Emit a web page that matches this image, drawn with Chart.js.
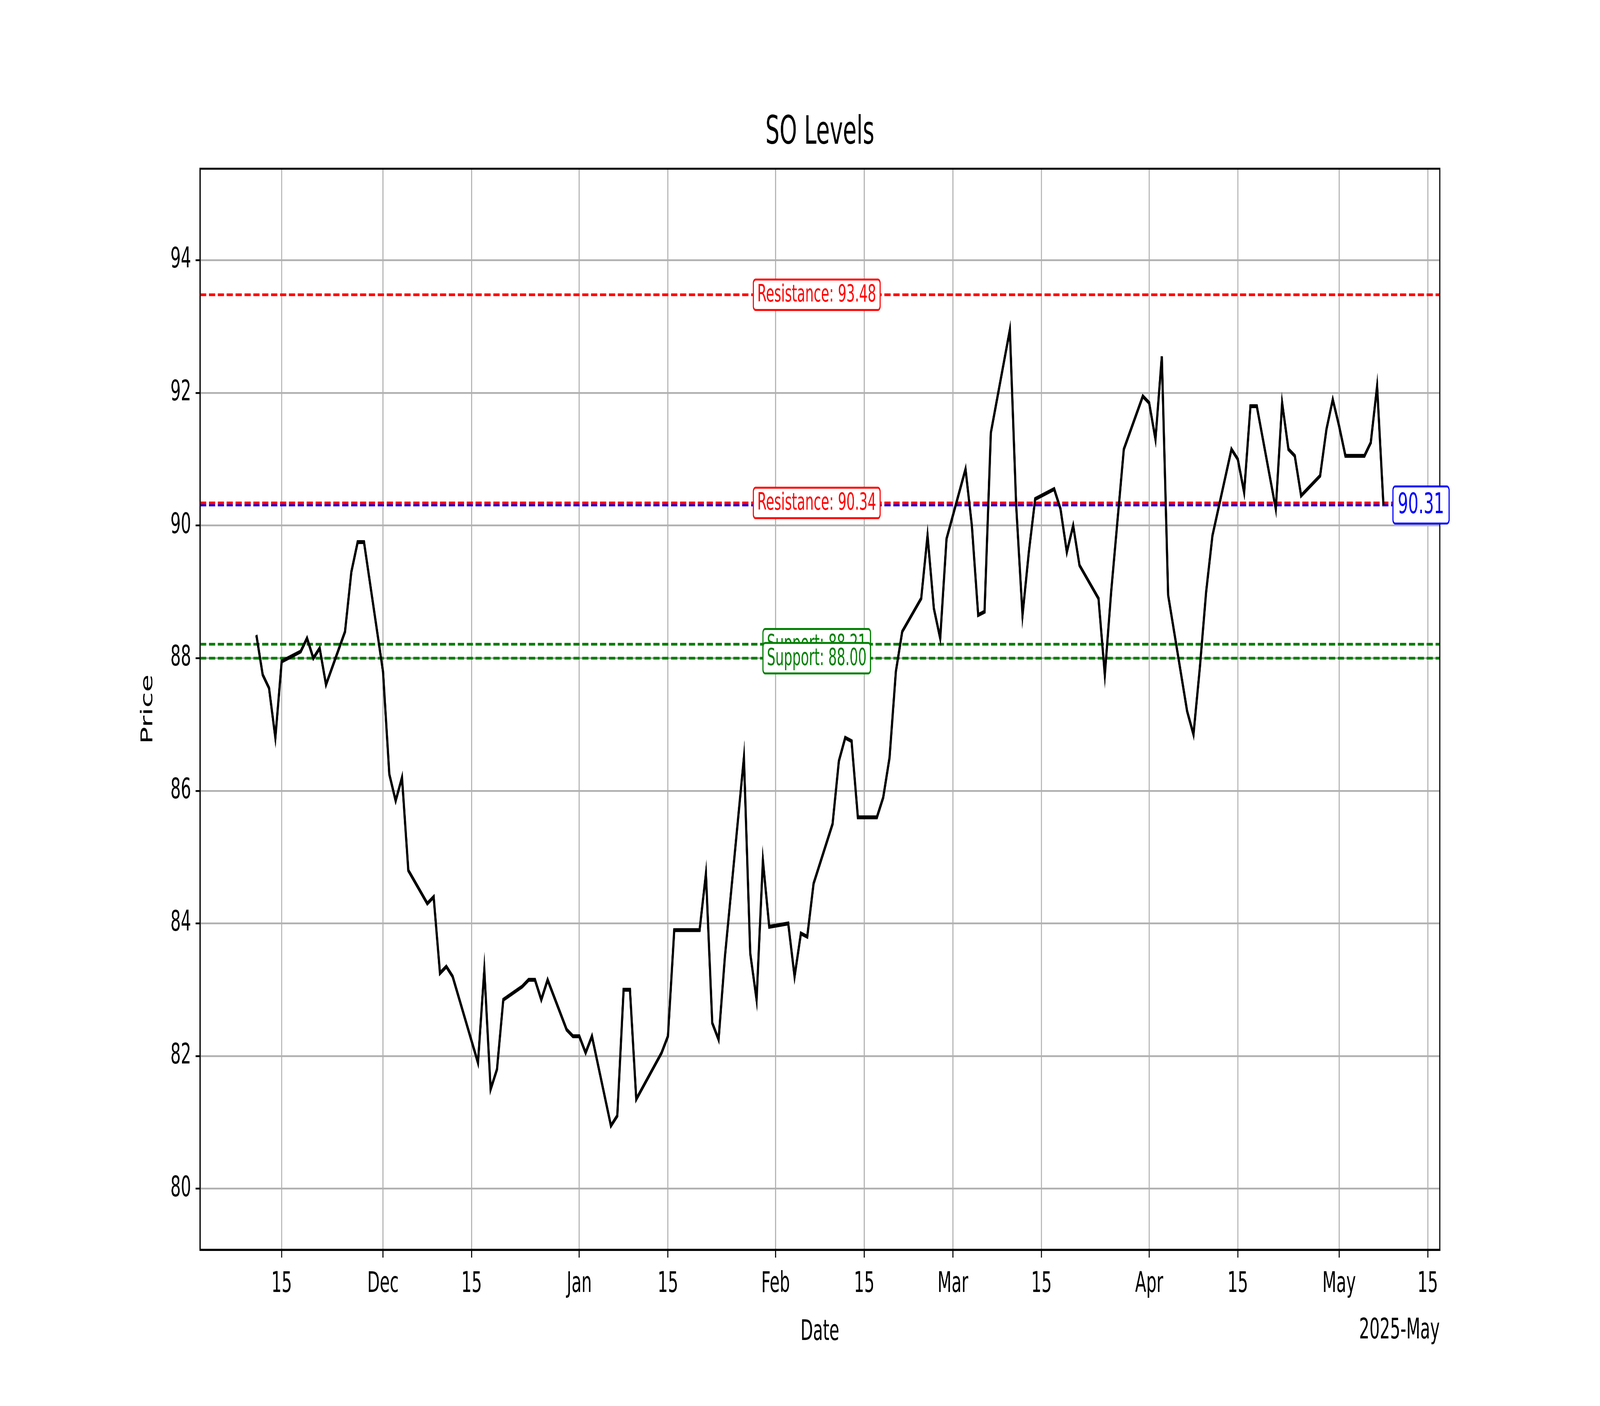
<!DOCTYPE html>
<html>
<head>
<meta charset="utf-8">
<script src="https://cdn.jsdelivr.net/npm/chart.js@4.4.1/dist/chart.umd.min.js"></script>
<style>
  html, body { margin: 0; padding: 0; overflow: hidden; background: #fff; }
  canvas { display: block; }
</style>
</head>
<body>
<canvas id="chart" width="7200" height="3600" style="width:100vw;height:100vh"></canvas>
<script>
// days counted from 2024-11-01 (day 0)
const days = [10,11,12,13,14,17,18,19,20,21,24,25,26,27,28,30,31,32,33,34,37,38,39,40,41,43,45,46,47,48,49,52,53,54,55,56,59,60,61,62,63,66,67,68,69,70,74,75,76,80,81,82,83,84,87,88,89,90,91,94,95,96,97,98,101,102,103,104,105,108,109,110,111,112,115,116,117,118,119,122,123,124,125,126,129,130,131,132,133,136,137,138,139,140,143,144,145,147,150,151,152,153,154,157,158,159,160,161,164,165,166,167,168,171,172,173,174,175,178,179,180,181,182,185,186,187,188];
const prices = [88.35,87.75,87.55,86.8,87.95,88.1,88.3,88.0,88.15,87.6,88.4,89.3,89.75,89.75,89.1,87.8,86.25,85.85,86.2,84.8,84.3,84.4,83.25,83.35,83.2,82.55,81.9,83.3,81.5,81.8,82.85,83.05,83.15,83.15,82.85,83.15,82.4,82.3,82.3,82.05,82.3,80.95,81.1,83.0,83.0,81.35,82.05,82.3,83.9,83.9,84.75,82.5,82.25,83.5,86.5,83.55,82.85,84.95,83.95,84.0,83.2,83.85,83.8,84.6,85.5,86.45,86.8,86.75,85.6,85.6,85.9,86.5,87.8,88.4,88.9,89.85,88.75,88.3,89.8,90.85,90.0,88.65,88.7,91.4,92.95,90.3,88.65,89.6,90.4,90.55,90.25,89.6,90.0,89.4,88.9,87.75,89.0,91.15,91.95,91.85,91.3,92.55,88.95,87.2,86.85,87.85,89.0,89.85,91.15,91.0,90.5,91.8,91.8,90.25,91.85,91.15,91.05,90.45,90.75,91.45,91.9,91.5,91.05,91.05,91.25,92.1,90.31];

const tickDays = [14,30,44,61,75,92,106,120,134,151,165,181,195];
const tickLabels = ["15","Dec","15","Jan","15","Feb","15","Mar","15","Apr","15","May","15"];
const yTicks = [80,82,84,86,88,90,92,94];

const resistance = [93.48, 90.34];
const support = [88.21, 88.00];
const current = 90.31;

const xMin = 1.1, xMax = 196.9;
const labelDay = 98.5;
const FONT = "'DejaVu Sans', sans-serif";

function hline(value, color) {
    return {
        data: [{x: xMin, y: value}, {x: xMax, y: value}],
        borderColor: color,
        borderWidth: 7,
        borderDash: [28, 12],
        pointRadius: 0,
        fill: false
    };
}

function drawBox(ctx, text, cx, cy, color, size, align) {
    ctx.font = size + "px " + FONT;
    const w = ctx.measureText(text).width;
    const padX = size * 0.3, h = size * 1.3;
    let left = align === "left" ? cx : cx - w / 2 - padX;
    ctx.fillStyle = "#fff";
    ctx.strokeStyle = color;
    ctx.lineWidth = 5;
    ctx.beginPath();
    ctx.roundRect(left, cy - h / 2, w + padX * 2, h, 10);
    ctx.fill();
    ctx.stroke();
    ctx.fillStyle = color;
    ctx.textAlign = "left";
    ctx.textBaseline = "middle";
    ctx.fillText(text, left + padX, cy + 2);
}

const decor = {
    id: "decor",
    afterDatasetsDraw(chart) {
        const ctx = chart.ctx;
        const x = chart.scales.x, y = chart.scales.y;
        const a = chart.chartArea;
        ctx.save();
        // frame
        ctx.strokeStyle = "#000";
        ctx.lineWidth = 5;
        ctx.strokeRect(a.left, a.top, a.right - a.left, a.bottom - a.top);
        // level labels
        const cx = x.getPixelForValue(labelDay);
        resistance.forEach(v => drawBox(ctx, "Resistance: " + v.toFixed(2), cx, y.getPixelForValue(v), "#ff0000", 60));
        support.forEach(v => drawBox(ctx, "Support: " + v.toFixed(2), cx, y.getPixelForValue(v), "#008000", 60));
        drawBox(ctx, current.toFixed(2), x.getPixelForValue(189.5), y.getPixelForValue(current), "#0000ff", 73, "left");
        // titles
        ctx.fillStyle = "#000";
        ctx.textBaseline = "middle";
        ctx.textAlign = "center";
        ctx.font = "100px " + FONT;
        ctx.fillText("SO Levels", (a.left + a.right) / 2, 342);
        ctx.font = "73px " + FONT;
        ctx.fillText("Date", (a.left + a.right) / 2, 3412);
        ctx.textAlign = "right";
        ctx.fillText("2025-May", a.right, 3408);
        ctx.translate(666, (a.top + a.bottom) / 2);
        ctx.rotate(-Math.PI / 2);
        ctx.textAlign = "center";
        ctx.fillText("Price", 0, 0);
        ctx.restore();
    }
};

new Chart(document.getElementById("chart").getContext("2d"), {
    type: "line",
    data: {
        datasets: [
            {
                data: days.map((d, i) => ({x: d, y: prices[i]})),
                borderColor: "#000",
                borderWidth: 10,
                pointRadius: 0,
                tension: 0,
                fill: false
            },
            hline(resistance[0], "#ff0000"),
            hline(resistance[1], "#ff0000"),
            hline(support[0], "#008000"),
            hline(support[1], "#008000"),
            hline(current, "#0000ff")
        ]
    },
    options: {
        responsive: false,
        animation: false,
        devicePixelRatio: 1,
        layout: { padding: { top: 432, right: 721, bottom: 0, left: 0 } },
        plugins: { legend: { display: false }, tooltip: { enabled: false } },
        scales: {
            x: {
                type: "linear",
                min: xMin,
                max: xMax,
                afterBuildTicks: s => { s.ticks = tickDays.map(v => ({value: v})); },
                afterFit: s => { s.height = 400; },
                ticks: {
                    callback: v => tickLabels[tickDays.indexOf(v)],
                    font: { family: FONT, size: 73 },
                    color: "#000",
                    padding: 25,
                    maxRotation: 0,
                    autoSkip: false
                },
                grid: { color: "#b0b0b0", lineWidth: 4.6, tickLength: 20, tickColor: "#000" },
                border: { color: "#000", width: 5 }
            },
            y: {
                min: 79.08,
                max: 95.38,
                afterBuildTicks: s => { s.ticks = yTicks.map(v => ({value: v})); },
                afterFit: s => { s.width = 900; },
                ticks: {
                    font: { family: FONT, size: 73 },
                    color: "#000",
                    padding: 20
                },
                grid: { color: "#b0b0b0", lineWidth: 4.6, tickLength: 20, tickColor: "#000" },
                border: { color: "#000", width: 5 }
            }
        }
    },
    plugins: [decor]
});
</script>
</body>
</html>
